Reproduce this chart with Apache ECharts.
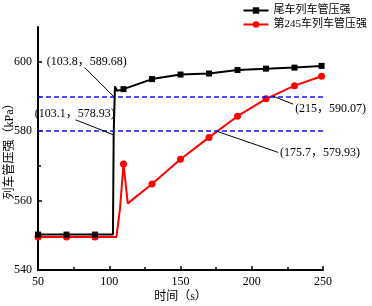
<!DOCTYPE html>
<html>
<head>
<meta charset="utf-8">
<script src="https://cdn.jsdelivr.net/npm/echarts@6/dist/echarts.min.js"></script>
<style>
  html, body { margin: 0; padding: 0; background: #fff; }
  #chart { width: 372px; height: 306px; }
</style>
</head>
<body>
<div id="chart"></div>
<script>
// 尾车
const tailTime = [50, 70, 90, 102.6, 103.1, 103.8, 104, 105.5, 110, 130, 150, 170, 190, 210, 230, 249]
const tailPressure = [550.2, 550.2, 550.2, 550.2, 578.93, 589.68, 592.9, 591.6, 592.1, 595.0, 596.3, 596.6, 597.6, 598.0, 598.3, 598.8]
// 第245车
const carTime = [50, 70, 90, 105, 107.5, 110, 113, 130, 150, 170, 190, 210, 230, 249]
const carPressure = [549.5, 549.5, 549.5, 549.5, 557.5, 570.5, 559.2, 564.8, 571.9, 578.2, 584.3, 589.3, 593.1, 595.8]
// 带标记的时刻
const markerTime = [50, 70, 90, 110, 130, 150, 170, 190, 210, 230, 249]
// 阈值虚线
const thresholds = [580, 590]
// 标注点
const annotTime = [103.8, 103.1, 215, 175.7]
const annotPressure = [589.68, 578.93, 590.07, 579.93]
const yTicks = [540, 560, 580, 600]

const seriesNames = ['尾车列车管压强', '第245车列车管压强']
const FONT = "'Liberation Serif', 'Noto Sans CJK SC', serif"

const chart = echarts.init(document.getElementById('chart'))

// 非标记点不画符号
const points = (xs, ys) => xs.map((x, i) =>
  markerTime.includes(x) ? [x, ys[i]] : { value: [x, ys[i]], symbol: 'none' })

const option = {
  animation: false,
  textStyle: { fontFamily: FONT, color: '#000' },
  legend: {
    orient: 'vertical',
    right: 0,
    top: 0,
    itemWidth: 25,
    itemHeight: 8,
    itemGap: 3,
    textStyle: { fontFamily: FONT, fontSize: 11, color: '#000' },
    data: seriesNames
  },
  grid: { left: 38, right: 49, top: 27, bottom: 36, outerBoundsMode: 'none', containLabel: false },
  xAxis: {
    type: 'value',
    min: 50,
    max: 250,
    interval: 50,
    name: '时间（s）',
    nameLocation: 'middle',
    nameGap: 21,
    nameMoveOverlap: false,
    nameTextStyle: { fontFamily: FONT, fontSize: 12, color: '#000' },
    axisLine: { lineStyle: { color: '#000', width: 2 } },
    axisTick: { inside: true, length: 4, lineStyle: { width: 1.5 } },
    minorTick: { show: true, splitNumber: 2, length: 3, lineStyle: { color: '#000', width: 1.5 } },
    axisLabel: { fontSize: 12, color: '#000', margin: 6 },
    splitLine: { show: false }
  },
  yAxis: {
    type: 'value',
    min: 540,
    max: 610,
    interval: 20,
    name: '列车管压强（kPa）',
    nameLocation: 'middle',
    nameGap: 22,
    nameMoveOverlap: false,
    nameTextStyle: { fontFamily: FONT, fontSize: 12, color: '#000' },
    axisLine: { show: true, lineStyle: { color: '#000', width: 2 } },
    axisTick: { inside: true, length: 4, lineStyle: { width: 1.5 }, customValues: yTicks },
    minorTick: { show: true, splitNumber: 2, length: 3, lineStyle: { color: '#000', width: 1.5 } },
    axisLabel: { fontSize: 12, color: '#000', margin: 6, customValues: yTicks },
    splitLine: { show: false }
  },
  series: [
    {
      name: seriesNames[0],
      type: 'line',
      data: points(tailTime, tailPressure),
      symbol: 'rect',
      symbolSize: 6,
      showAllSymbol: true,
      clip: false,
      lineStyle: { color: '#000', width: 2 },
      itemStyle: { color: '#000' },
      z: 3,
      markLine: {
        silent: true,
        symbol: 'none',
        label: { show: false },
        lineStyle: { color: '#1515ff', type: [5, 3], width: 1.5 },
        data: thresholds.map(v => ({ yAxis: v }))
      }
    },
    {
      name: seriesNames[1],
      type: 'line',
      data: points(carTime, carPressure),
      symbol: 'circle',
      symbolSize: 7,
      showAllSymbol: true,
      clip: false,
      lineStyle: { color: '#f00', width: 2 },
      itemStyle: { color: '#f00' },
      z: 2
    }
  ]
}

chart.setOption(option)

// 标注：引线 + 坐标文字（像素偏移）
const leaderOffset = [[-30, -30], [-38, -15], [20, 8], [61, 21]]
const textOffset = [[12, -36], [1, -21], [22, 13], [63, 21]]
const textAlign = ['right', 'right', 'left', 'left']

const graphics = []
annotTime.forEach((t, i) => {
  const p = chart.convertToPixel({ gridIndex: 0 }, [t, annotPressure[i]])
  graphics.push({
    type: 'line',
    shape: { x1: p[0], y1: p[1], x2: p[0] + leaderOffset[i][0], y2: p[1] + leaderOffset[i][1] },
    style: { stroke: '#000', lineWidth: 1 },
    z: 10
  })
  graphics.push({
    type: 'text',
    x: p[0] + textOffset[i][0],
    y: p[1] + textOffset[i][1],
    style: {
      text: '(' + t + '，' + annotPressure[i].toFixed(2) + ')',
      font: '12px ' + FONT,
      fill: '#000',
      align: textAlign[i],
      verticalAlign: 'middle'
    },
    z: 10
  })
})
chart.setOption({ graphic: graphics })
</script>
</body>
</html>
